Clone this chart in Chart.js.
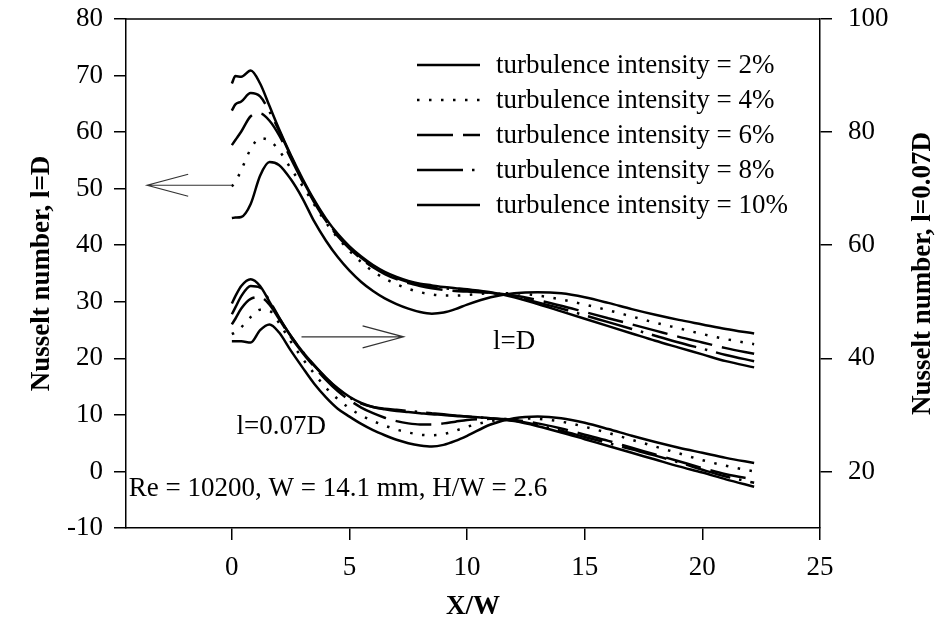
<!DOCTYPE html>
<html>
<head>
<meta charset="utf-8">
<script src="https://cdn.jsdelivr.net/npm/chart.js@4.4.0/dist/chart.umd.min.js"></script>
<style>
  html, body { margin: 0; padding: 0; background: #fff; }
  #wrap { width: 936px; height: 635px; }
</style>
</head>
<body>
<div id="wrap"><canvas id="nu-chart" width="936" height="635"></canvas></div>
<script>
const SERIF = '"Liberation Serif", "Times New Roman", serif';

// X/W stations shared by every curve
const X = [0, 0.15, 0.4, 0.8, 1.2, 1.6, 2, 2.5, 3, 3.5, 4, 4.5, 5, 5.5, 6, 6.5, 7, 7.5, 8, 8.5, 9, 9.5, 10,
           11, 12, 13, 14, 15, 16, 17, 18, 19, 20, 21, 22.2];

// Nusselt number, l=D (left axis)
const nuD_2  = [44.8, 44.9, 45.0, 47.3, 52.3, 54.7, 54.2, 51.7, 48.3, 44.2, 40.8, 37.9, 35.5, 33.5, 31.9, 30.6, 29.6, 28.8, 28.2, 27.9, 28.1, 28.7, 29.5, 30.8, 31.5, 31.7, 31.5, 30.8, 29.8, 28.7, 27.7, 26.8, 26.0, 25.2, 24.4];
const nuD_4  = [50.4, 51.2, 53.3, 57.0, 58.9, 58.5, 56.8, 53.6, 50.5, 47.2, 44.0, 41.3, 39.0, 37.0, 35.4, 34.1, 33.1, 32.3, 31.7, 31.3, 31.1, 31.1, 31.2, 31.5, 31.5, 31.1, 30.4, 29.5, 28.5, 27.4, 26.3, 25.3, 24.3, 23.4, 22.5];
const nuD_6  = [57.7, 58.6, 60.1, 62.8, 63.3, 62.0, 59.5, 55.4, 51.3, 47.6, 44.3, 41.6, 39.4, 37.6, 36.1, 34.9, 34.0, 33.3, 32.8, 32.4, 32.1, 31.9, 31.8, 31.6, 31.1, 30.3, 29.3, 28.2, 27.1, 26.0, 24.9, 23.8, 22.8, 21.8, 20.8];
const nuD_8  = [63.8, 64.9, 65.4, 66.9, 66.3, 63.6, 60.3, 55.8, 51.6, 47.8, 44.5, 41.8, 39.6, 37.8, 36.3, 35.1, 34.2, 33.5, 33.0, 32.7, 32.4, 32.2, 32.0, 31.6, 30.9, 29.9, 28.8, 27.6, 26.4, 25.2, 24.0, 22.8, 21.7, 20.6, 19.5];
const nuD_10 = [68.6, 69.9, 69.8, 70.9, 68.6, 64.6, 60.6, 56.0, 51.8, 48.0, 44.7, 42.0, 39.8, 38.0, 36.5, 35.3, 34.4, 33.7, 33.2, 32.9, 32.6, 32.4, 32.2, 31.7, 30.8, 29.6, 28.3, 27.0, 25.7, 24.4, 23.1, 21.9, 20.7, 19.5, 18.4];

// Nusselt number, l=0.07D (right axis)
const nu07_2  = [43.0, 43.0, 43.0, 42.8, 45.0, 46.0, 44.6, 41.4, 38.4, 35.5, 33.1, 31.1, 29.7, 28.4, 27.3, 26.4, 25.6, 25.0, 24.6, 24.4, 24.7, 25.4, 26.3, 28.3, 29.4, 29.7, 29.4, 28.6, 27.5, 26.3, 25.2, 24.2, 23.3, 22.4, 21.5];
const nu07_4  = [44.3, 44.6, 45.5, 47.3, 48.6, 48.4, 46.3, 43.0, 40.0, 37.3, 34.8, 32.8, 31.2, 29.9, 28.9, 28.1, 27.4, 26.9, 26.5, 26.4, 26.6, 27.2, 27.9, 28.9, 29.4, 29.3, 28.8, 27.9, 26.8, 25.6, 24.4, 23.2, 22.0, 21.0, 20.0];
const nu07_6  = [46.0, 47.0, 48.8, 50.5, 50.8, 49.5, 47.0, 43.8, 41.0, 38.5, 36.2, 34.2, 32.6, 31.3, 30.3, 29.5, 28.9, 28.5, 28.3, 28.3, 28.5, 28.8, 29.1, 29.3, 29.1, 28.5, 27.6, 26.5, 25.4, 24.2, 23.0, 21.8, 20.6, 19.5, 18.6];
const nu07_8  = [47.8, 49.0, 51.0, 52.8, 52.5, 50.2, 47.3, 44.0, 41.2, 38.7, 36.5, 34.6, 33.1, 32.0, 31.4, 31.1, 30.9, 30.7, 30.5, 30.3, 30.1, 29.9, 29.7, 29.4, 29.0, 28.2, 27.2, 26.1, 25.0, 23.9, 22.8, 21.6, 20.3, 19.1, 18.0];
const nu07_10 = [49.7, 51.0, 52.8, 54.0, 52.8, 50.0, 47.2, 44.0, 41.2, 38.8, 36.6, 34.7, 33.2, 32.1, 31.4, 31.0, 30.7, 30.5, 30.3, 30.1, 30.0, 29.8, 29.7, 29.4, 28.9, 28.0, 26.9, 25.7, 24.5, 23.3, 22.1, 20.9, 19.8, 18.6, 17.3];

const LABELS = ['turbulence intensity = 2%', 'turbulence intensity = 4%', 'turbulence intensity = 6%',
                'turbulence intensity = 8%', 'turbulence intensity = 10%'];
const X_TICKS = [0, 5, 10, 15, 20, 25];
const Y2_TICKS = [20, 40, 60, 80, 100];

// line styles per intensity: solid, dotted, long dash, dash-dot, solid
const DASHES = [[], [2.5, 9.5], [36, 10], [46, 9, 2.5, 9], []];

// arrows pointing each family at its axis (data units)
const ARROWS = [
  { from: 0, to: -3.6, y: 50.6, axis: 'y' },
  { from: 2.96, to: 7.3, y: 43.8, axis: 'y1' }
];

const NOTES = [
  { text: 'l=D', x: 11.1, y: 22.9 },
  { text: 'l=0.07D', x: 0.2, y: 7.8 },
  { text: 'Re = 10200, W = 14.1 mm, H/W = 2.6', x: -4.38, y: -3.0 }
];

function makeSeries(label, values, axis, dash) {
  return {
    label: label,
    yAxisID: axis,
    data: X.map((x, i) => ({ x: x, y: values[i] })),
    borderColor: '#000',
    borderWidth: 2.5,
    borderDash: dash,
    pointRadius: 0,
    fill: false,
    cubicInterpolationMode: 'monotone'
  };
}

const upper = [nuD_2, nuD_4, nuD_6, nuD_8, nuD_10];
const lower = [nu07_2, nu07_4, nu07_6, nu07_8, nu07_10];
const datasets = [];
upper.forEach((v, i) => datasets.push(makeSeries(LABELS[i], v, 'y', DASHES[i])));
lower.forEach((v, i) => datasets.push(makeSeries(LABELS[i], v, 'y1', DASHES[i])));

// top edge of the frame
const framePlugin = {
  id: 'frameTop',
  afterDraw(chart) {
    const { ctx, chartArea } = chart;
    ctx.save();
    ctx.strokeStyle = '#000';
    ctx.lineWidth = 1.5;
    ctx.beginPath();
    ctx.moveTo(chartArea.left, chartArea.top);
    ctx.lineTo(chartArea.right, chartArea.top);
    ctx.stroke();
    ctx.restore();
  }
};

const arrowPlugin = {
  id: 'axisArrows',
  afterDatasetsDraw(chart) {
    const { ctx, scales } = chart;
    ctx.save();
    ctx.strokeStyle = '#333';
    ctx.lineWidth = 1.2;
    ARROWS.forEach(a => {
      const x0 = scales.x.getPixelForValue(a.from);
      const x1 = scales.x.getPixelForValue(a.to);
      const y = scales[a.axis].getPixelForValue(a.y);
      const dir = Math.sign(x1 - x0);
      ctx.beginPath();
      ctx.moveTo(x0, y);
      ctx.lineTo(x1, y);
      ctx.moveTo(x1 - dir * 41, y - 11);
      ctx.lineTo(x1, y);
      ctx.lineTo(x1 - dir * 41, y + 11);
      ctx.stroke();
    });
    ctx.restore();
  }
};

const notePlugin = {
  id: 'notes',
  afterDatasetsDraw(chart) {
    const { ctx, scales } = chart;
    ctx.save();
    ctx.font = '27px ' + SERIF;
    ctx.fillStyle = '#000';
    ctx.textAlign = 'left';
    ctx.textBaseline = 'middle';
    NOTES.forEach(n => {
      ctx.fillText(n.text, scales.x.getPixelForValue(n.x), scales.y.getPixelForValue(n.y));
    });
    ctx.restore();
  }
};

const legendPlugin = {
  id: 'innerLegend',
  afterDatasetsDraw(chart) {
    const { ctx, chartArea } = chart;
    const x = chartArea.right - 403, y0 = chartArea.top + 46, len = 63, rowH = 35;
    ctx.save();
    ctx.font = '27px ' + SERIF;
    ctx.fillStyle = '#000';
    ctx.textBaseline = 'middle';
    chart.data.datasets.slice(0, 5).forEach((ds, i) => {
      const y = y0 + i * rowH;
      ctx.strokeStyle = '#000';
      ctx.lineWidth = ds.borderWidth;
      ctx.setLineDash(ds.borderDash);
      ctx.beginPath();
      ctx.moveTo(x, y);
      ctx.lineTo(x + len, y);
      ctx.stroke();
      ctx.fillText(ds.label, x + len + 16, y + 1);
    });
    ctx.restore();
  }
};

// right axis title reads bottom-to-top like the left one
const rightTitlePlugin = {
  id: 'rightTitle',
  afterDraw(chart) {
    const { ctx, chartArea } = chart;
    ctx.save();
    ctx.translate(923, (chartArea.top + chartArea.bottom) / 2);
    ctx.rotate(-Math.PI / 2);
    ctx.font = 'bold 27px ' + SERIF;
    ctx.fillStyle = '#000';
    ctx.textAlign = 'center';
    ctx.textBaseline = 'middle';
    ctx.fillText('Nusselt number, l=0.07D', 0, 0);
    ctx.restore();
  }
};

// fixed axis band sizes; no extra room for the end labels
function fixWidth(w) {
  return s => { s.width = w; s.paddingTop = 0; s.paddingBottom = 0; };
}

const tickFont = { family: SERIF, size: 27 };
const gridStyle = { drawOnChartArea: false, drawTicks: true, tickLength: 12, color: '#000', lineWidth: 1.5 };
const borderStyle = { display: true, color: '#000', width: 1.5 };

new Chart(document.getElementById('nu-chart'), {
  type: 'line',
  data: { datasets: datasets },
  options: {
    responsive: false,
    animation: false,
    layout: { padding: { top: 19, left: 0, right: 0, bottom: 0 } },
    plugins: { legend: { display: false }, tooltip: { enabled: false } },
    scales: {
      x: {
        type: 'linear',
        position: 'bottom',
        min: -4.5,
        max: 25,
        afterBuildTicks: s => { s.ticks = X_TICKS.map(v => ({ value: v })); },
        afterFit: s => { s.height = 107; s.paddingLeft = 0; s.paddingRight = 0; },
        ticks: { font: tickFont, color: '#000', padding: 12, maxRotation: 0 },
        grid: gridStyle,
        border: borderStyle,
        title: { display: true, text: 'X/W', color: '#000', font: { family: SERIF, size: 27, weight: 'bold' }, padding: { top: 0, bottom: 12 } }
      },
      y: {
        position: 'left',
        min: -10,
        max: 80,
        afterFit: fixWidth(126),
        ticks: { stepSize: 10, font: tickFont, color: '#000', padding: 11 },
        grid: gridStyle,
        border: borderStyle,
        title: { display: true, text: 'Nusselt number, l=D', color: '#000', font: { family: SERIF, size: 27, weight: 'bold' }, padding: { top: 26, bottom: 0 } }
      },
      y1: {
        position: 'right',
        min: 10,
        max: 100,
        afterBuildTicks: s => { s.ticks = Y2_TICKS.map(v => ({ value: v })); },
        afterFit: fixWidth(116),
        ticks: { font: tickFont, color: '#000', padding: 16 },
        grid: gridStyle,
        border: borderStyle
      }
    }
  },
  plugins: [framePlugin, arrowPlugin, notePlugin, legendPlugin, rightTitlePlugin]
});
</script>
</body>
</html>
